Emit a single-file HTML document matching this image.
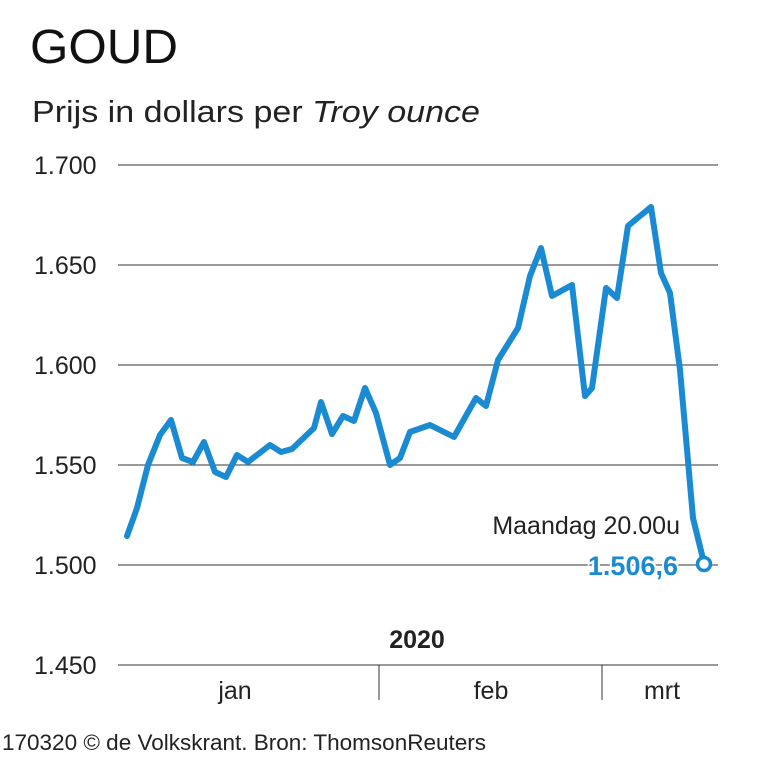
<!DOCTYPE html>
<html><head><meta charset="utf-8"><style>
body{margin:0;background:#fff;}
svg{display:block;font-family:"Liberation Sans",sans-serif;}
</style></head><body>
<svg width="763" height="763" viewBox="0 0 763 763">
<rect width="763" height="763" fill="#fff"/>
<text x="30" y="63" font-size="48" fill="#111" textLength="148" lengthAdjust="spacingAndGlyphs">GOUD</text>
<text x="32" y="122" font-size="31" fill="#222" textLength="448" lengthAdjust="spacingAndGlyphs">Prijs in dollars per <tspan font-style="italic">Troy ounce</tspan></text>
<g stroke="#333" stroke-width="1">
<line x1="118" y1="165" x2="718" y2="165"/>
<line x1="118" y1="265" x2="718" y2="265"/>
<line x1="118" y1="365" x2="718" y2="365"/>
<line x1="118" y1="465" x2="718" y2="465"/>
<line x1="118" y1="565" x2="718" y2="565"/>
<line x1="118" y1="665" x2="718" y2="665"/>
<line x1="379" y1="665" x2="379" y2="700"/>
<line x1="602" y1="665" x2="602" y2="700"/>
</g>
<g font-size="25" fill="#222">
<text x="34" y="174">1.700</text>
<text x="34" y="274">1.650</text>
<text x="34" y="374">1.600</text>
<text x="34" y="474">1.550</text>
<text x="34" y="574">1.500</text>
<text x="34" y="674">1.450</text>
<text x="235" y="699" text-anchor="middle">jan</text>
<text x="491" y="699" text-anchor="middle">feb</text>
<text x="662" y="699" text-anchor="middle">mrt</text>
<text x="417" y="648" text-anchor="middle" font-weight="bold">2020</text>
<text x="680" y="534" text-anchor="end">Maandag 20.00u</text>
</g>
<polyline fill="none" stroke="#1a8bd2" stroke-width="6" stroke-linejoin="round" stroke-linecap="round" points="127,536 137,508 148,465 160,435 171,420 182,458 193,462 204,442 215,472 226,477 237,455 248,462 270,445 281,452 292,449 314,428 321,402 332,434 343,416 354,421 365,388 376,413 390,465 400,458 410,432 430,425 454,437 476,398 486,406 498,360 518,328 530,276 541,248 552,296 572,285 585,396 592,388 606,288 617,298 628,226 640,216 651,207 661,273 670,293 680,370 693,518 704,563"/>
<text x="678" y="575" text-anchor="end" font-size="27" font-weight="bold" fill="#1a8bd2" stroke="#fff" stroke-width="4" paint-order="stroke">1.506,6</text>
<circle cx="704" cy="564" r="6.5" fill="#fff" stroke="#1a8bd2" stroke-width="3.5"/>
<text x="2" y="750" font-size="22" fill="#222" textLength="484" lengthAdjust="spacingAndGlyphs">170320 © de Volkskrant. Bron: ThomsonReuters</text>
</svg>
</body></html>
